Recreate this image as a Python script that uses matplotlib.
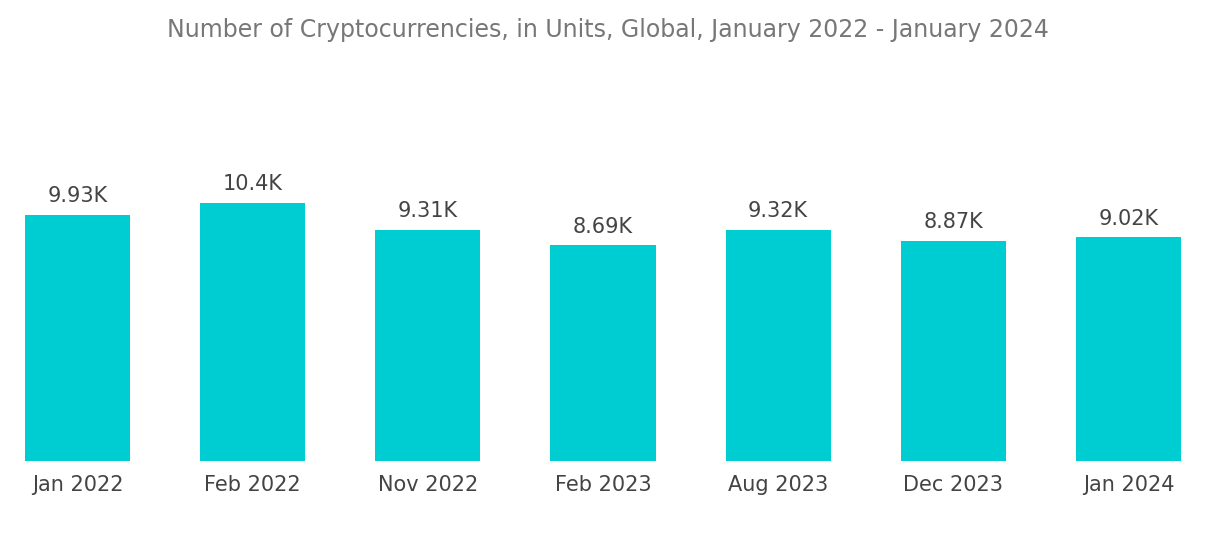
import matplotlib.pyplot as plt

categories = ["Jan 2022", "Feb 2022", "Nov 2022", "Feb 2023", "Aug 2023", "Dec 2023", "Jan 2024"]
values = [9.93, 10.4, 9.31, 8.69, 9.32, 8.87, 9.02]
labels = ["9.93K", "10.4K", "9.31K", "8.69K", "9.32K", "8.87K", "9.02K"]

fig = plt.figure(figsize=(12.16, 5.41), dpi=100)
ax = fig.add_axes([25/1216, 80/541, 1156/1216, 297.6/541])

x = range(len(categories))
ax.bar(x, values, width=0.6, color='#00CDD2')
for xi, v, lab in zip(x, values, labels):
    ax.text(xi, v + 0.35, lab, ha='center', va='bottom', fontsize=15, color='#444444')

ax.set_xlim(-0.3, 6.3)
ax.set_ylim(0, 12)
ax.set_xticks(list(x))
ax.set_xticklabels(categories, fontsize=15, color='#444444')
ax.tick_params(axis='x', length=0, pad=10)
ax.set_yticks([])
for s in ax.spines.values():
    s.set_visible(False)

fig.text(0.5, 0.945, "Number of Cryptocurrencies, in Units, Global, January 2022 - January 2024",
         ha='center', va='center', fontsize=17, color='#777777')

fig.savefig('out.png', dpi=100)
